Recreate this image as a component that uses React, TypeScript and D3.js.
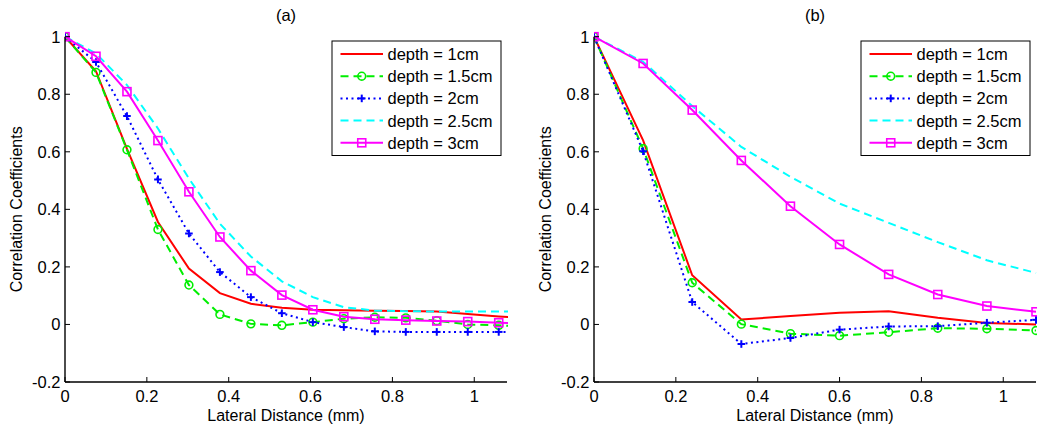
import React from "react";
import * as d3 from "d3";

// ---------- Data ----------
const seriesNames = ["depth = 1cm", "depth = 1.5cm", "depth = 2cm", "depth = 2.5cm", "depth = 3cm"];

// Panel (a): sample index * 0.0757 mm
const xStepA = 0.0757;
const xA = d3.range(16).map((i) => i * xStepA);
const a_d10 = [1, 0.88, 0.61, 0.356, 0.194, 0.109, 0.072, 0.058, 0.051, 0.049, 0.048, 0.047, 0.045, 0.036, 0.028, 0.02];
const a_d15 = [1, 0.876, 0.607, 0.33, 0.137, 0.035, 0.002, -0.003, 0.008, 0.02, 0.025, 0.023, 0.013, 0.0, -0.003, -0.008];
const a_d20 = [1, 0.912, 0.724, 0.504, 0.316, 0.182, 0.095, 0.039, 0.008, -0.009, -0.024, -0.026, -0.026, -0.026, -0.026, -0.026];
const a_d25 = [1, 0.942, 0.832, 0.681, 0.507, 0.35, 0.236, 0.15, 0.095, 0.06, 0.048, 0.046, 0.045, 0.045, 0.045, 0.045];
const a_d30 = [1, 0.932, 0.809, 0.639, 0.461, 0.304, 0.187, 0.102, 0.051, 0.027, 0.018, 0.015, 0.012, 0.01, 0.006, 0.004];

// Panel (b): 0.12 mm steps
const xB = [0, 0.12, 0.24, 0.36, 0.48, 0.6, 0.72, 0.84, 0.96, 1.08];
const b_d10 = [1, 0.64, 0.171, 0.017, 0.029, 0.041, 0.046, 0.023, 0.005, 0.0];
const b_d15 = [1, 0.611, 0.145, 0.001, -0.032, -0.039, -0.027, -0.013, -0.015, -0.021];
const b_d20 = [1, 0.602, 0.078, -0.068, -0.047, -0.018, -0.007, -0.006, 0.006, 0.016];
const b_d25 = [1, 0.913, 0.759, 0.617, 0.513, 0.42, 0.353, 0.286, 0.223, 0.179];
const b_d30 = [1, 0.907, 0.745, 0.57, 0.411, 0.278, 0.174, 0.104, 0.064, 0.044];

const xTicks = [0, 0.2, 0.4, 0.6, 0.8, 1];
const xTickLabels = ["0", "0.2", "0.4", "0.6", "0.8", "1"];
const yTicks = [-0.2, 0, 0.2, 0.4, 0.6, 0.8, 1];
const yTickLabels = ["-0.2", "0", "0.2", "0.4", "0.6", "0.8", "1"];

// ---------- Styles ----------
type Style = { color: string; dash: string | null; marker: "none" | "circle" | "plus" | "square" };
const styles: Style[] = [
  { color: "#ff0000", dash: null, marker: "none" },
  { color: "#00ee00", dash: "8,5", marker: "circle" },
  { color: "#0000ff", dash: "2,3.5", marker: "plus" },
  { color: "#00ffff", dash: "8,5", marker: "none" },
  { color: "#ff00ff", dash: null, marker: "square" },
];

const FONT = "'Liberation Sans', Arial, Helvetica, sans-serif";
const FS = 16.5;
const FS_LABEL = 16;

function Marker({ kind, x, y, color }: { kind: Style["marker"]; x: number; y: number; color: string }) {
  if (kind === "circle") return <circle cx={x} cy={y} r={3.9} fill="none" stroke={color} strokeWidth={1.6} />;
  if (kind === "square") return <rect x={x - 4} y={y - 4} width={8} height={8} fill="none" stroke={color} strokeWidth={1.6} />;
  if (kind === "plus")
    return (
      <g stroke={color} strokeWidth={2}>
        <line x1={x - 3.8} x2={x + 3.8} y1={y} y2={y} />
        <line x1={x} x2={x} y1={y - 3.8} y2={y + 3.8} />
      </g>
    );
  return null;
}

function Panel({ id, title, left, xs, series }: { id: string; title: string; left: number; xs: number[]; series: number[][] }) {
  const width = 442;
  const top = 36.7;
  const bottom = 382;
  const x = d3.scaleLinear().domain([0, 1.08]).range([left, left + width]);
  const y = d3.scaleLinear().domain([-0.2, 1]).range([bottom, top]);
  const line = d3.line<[number, number]>().x((d) => x(d[0])).y((d) => y(d[1]));
  const clipId = "clip-" + id;
  const legX = left + width - 6 - 169;
  const legY = 41;
  return (
    <g>
      <defs>
        <clipPath id={clipId}>
          <rect x={left} y={top - 6} width={width + 1} height={bottom - top + 6} />
        </clipPath>
      </defs>
      <text x={left + width / 2} y={21} textAnchor="middle" fontFamily={FONT} fontSize={FS}>
        {title}
      </text>
      <g clipPath={`url(#${clipId})`}>
        {series.map((vals, si) => {
          const st = styles[si];
          const pts = xs.map((xv, i) => [xv, vals[i]] as [number, number]);
          return (
            <g key={si}>
              <path d={line(pts) || ""} fill="none" stroke={st.color} strokeWidth={2} strokeDasharray={st.dash || undefined} />
              {st.marker !== "none" &&
                pts
                  .filter((p) => p[0] <= 1.08 + 1e-9)
                  .map((p, i) => <Marker key={i} kind={st.marker} x={x(p[0])} y={y(p[1])} color={st.color} />)}
            </g>
          );
        })}
      </g>
      {/* axes */}
      <line x1={left} x2={left} y1={top} y2={bottom} stroke="#000" strokeWidth={1.4} />
      <line x1={left} x2={left + width} y1={bottom} y2={bottom} stroke="#000" strokeWidth={1.4} />
      {xTicks.map((t, i) => (
        <g key={"xt" + i}>
          <line x1={x(t)} x2={x(t)} y1={bottom} y2={bottom - 5} stroke="#000" strokeWidth={1} />
          <text x={x(t)} y={402} textAnchor="middle" fontFamily={FONT} fontSize={FS}>
            {xTickLabels[i]}
          </text>
        </g>
      ))}
      {yTicks.map((t, i) => (
        <g key={"yt" + i}>
          <line x1={left} x2={left + 5} y1={y(t)} y2={y(t)} stroke="#000" strokeWidth={1} />
          <text x={left - 4.5} y={y(t)} dy="0.36em" textAnchor="end" fontFamily={FONT} fontSize={FS}>
            {yTickLabels[i]}
          </text>
        </g>
      ))}
      <text x={left + width / 2} y={421} textAnchor="middle" fontFamily={FONT} fontSize={FS_LABEL}>
        Lateral Distance (mm)
      </text>
      <text
        transform={`translate(${left - 43.5},${(top + bottom) / 2}) rotate(-90)`}
        textAnchor="middle"
        fontFamily={FONT}
        fontSize={FS_LABEL}
      >
        Correlation Coefficients
      </text>
      {/* legend */}
      <g>
        <rect x={legX} y={legY} width={169} height={114.5} fill="#fff" stroke="#000" strokeWidth={1} />
        {seriesNames.map((name, si) => {
          const st = styles[si];
          const ry = legY + 13 + si * 22.2;
          const x1 = legX + 8.5;
          const x2 = legX + 51;
          return (
            <g key={"lg" + si}>
              <line x1={x1} x2={x2} y1={ry} y2={ry} stroke={st.color} strokeWidth={2} strokeDasharray={st.dash || undefined} />
              {st.marker !== "none" && <Marker kind={st.marker} x={(x1 + x2) / 2} y={ry} color={st.color} />}
              <text x={legX + 55.5} y={ry} dy="0.36em" fontFamily={FONT} fontSize={FS}>
                {name}
              </text>
            </g>
          );
        })}
      </g>
    </g>
  );
}

export default function App() {
  return (
    <div style={{ position: "fixed", left: 0, top: 0 }}>
      <svg width={1050} height={428} style={{ display: "block", background: "#fff" }}>
        <rect width={1050} height={428} fill="#fff" />
        <Panel id="a" title="(a)" left={65} xs={xA} series={[a_d10, a_d15, a_d20, a_d25, a_d30]} />
        <Panel id="b" title="(b)" left={594} xs={xB} series={[b_d10, b_d15, b_d20, b_d25, b_d30]} />
      </svg>
    </div>
  );
}
